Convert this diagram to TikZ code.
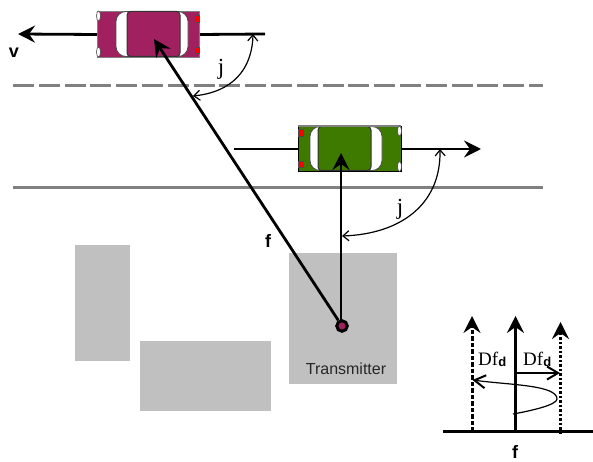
\documentclass[tikz,border=0pt]{standalone}
\usepackage{fontspec}
\setmainfont{Liberation Serif}
\setsansfont{Liberation Sans}
\usetikzlibrary{arrows.meta}
\definecolor{plum}{HTML}{A02060}
\definecolor{leaf}{HTML}{3F7A00}
\definecolor{blockgrey}{HTML}{C0C0C0}
\definecolor{roadgrey}{HTML}{808080}
\tikzset{
  x=1pt,y=-1pt,
  block/.style={fill=blockgrey,draw=none},
  road/.style={draw=roadgrey,line width=3pt},
  bigtip/.style={-{Stealth[length=17pt,width=17pt,inset=6pt]}},
  thick line/.style={line width=2.8pt},
  thin arc/.style={line width=1.2pt,{Straight Barb[length=6pt,width=10pt]}-{Straight Barb[length=6pt,width=10pt]}},
  boldlabel/.style={font=\sffamily\bfseries\fontsize{18}{20}\selectfont,inner sep=0pt},
  anglabel/.style={font=\rmfamily\fontsize{23}{25}\selectfont,inner sep=0pt},
  dflabel/.style={font=\rmfamily\fontsize{19}{21}\selectfont,inner sep=0pt},
}
\begin{document}
\begin{tikzpicture}
\useasboundingbox (0,0) rectangle (593,462);
% blocks
\fill[block] (75,245) rectangle (130,361);
\fill[block] (140,341) rectangle (271,411);
\fill[block] (289,253) rectangle (397,384);
% roads
\draw[road,dash pattern=on 21pt off 4.8pt] (13,85.5) -- (543,85.5);
\draw[road] (13,188) -- (543,188);
% car 1
\node[draw=roadgrey,fill=plum,line width=1pt,inner sep=0pt,minimum width=102pt,minimum height=46pt,anchor=north west] (car1) at (97,11) {};
\fill[white,draw=black!70,line width=0.8pt,rounded corners=10pt] (116,11.5) rectangle (188,56.5);
\fill[plum,draw=black!80,line width=1pt,rounded corners=3.5pt] (127,11.5) rectangle (180,56.5);
\fill[white,draw=black!70,line width=0.6pt] (98.5,16) ellipse (2pt and 5pt);
\fill[white,draw=black!70,line width=0.6pt] (98.5,52) ellipse (2pt and 5pt);
\fill[red,draw=black!70,line width=0.6pt] (195.5,15) rectangle (199.5,22);
\fill[red,draw=black!70,line width=0.6pt] (195.5,47) rectangle (199.5,53);
% car 2
\node[draw=black,fill=leaf,line width=1pt,inner sep=0pt,minimum width=103pt,minimum height=45pt,anchor=north west] (car2) at (298,126) {};
\fill[white,draw=black!70,line width=0.8pt,rounded corners=10pt] (310,126.5) rectangle (382,170.5);
\fill[leaf,draw=black!80,line width=1pt,rounded corners=3.5pt] (318,126.5) rectangle (371,170.5);
\draw[roadgrey,line width=1.6pt] (298,126) -- (401,126);
\fill[white,draw=black!70,line width=0.6pt] (399.5,131) ellipse (2pt and 5pt);
\fill[white,draw=black!70,line width=0.6pt] (399.5,166.5) ellipse (2pt and 5pt);
\fill[red,draw=black!70,line width=0.6pt] (298.5,129.5) rectangle (303,136.5);
\fill[red,draw=black!70,line width=0.6pt] (298.5,161) rectangle (303,167.5);
% transmitter
\coordinate (tip1) at (154,39);
\coordinate (tip2) at (341,153);
\coordinate (txv) at (341,322);
\coordinate (vtip) at (18,34);
\coordinate (r1) at (265,34);
\coordinate (l2) at (234,149);
\coordinate (vtip2) at (481,149);
\node[circle,draw=black,fill=plum,line width=3pt,minimum size=10.5pt,inner sep=0pt] (tx) at (342,326) {};
\draw[thick line,bigtip] (tx) -- (tip1);
\draw[line width=2.2pt,bigtip] (txv) -- (tip2);
\draw[thick line,bigtip] (car1.west) -- (vtip);
\draw[thick line] (car1.east) -- (r1);
\draw[thick line] (l2) -- (car2.west);
\draw[thick line,bigtip] (car2.east) -- (vtip2);
% angle arcs
\coordinate (a1) at (253,34);
\coordinate (a2) at (193,96);
\coordinate (b1) at (440,149);
\coordinate (b2) at (342,236);
\draw[thin arc] (a1) .. controls (252,70) and (232,92) .. (a2);
\draw[thin arc] (b1) .. controls (441,205) and (400,234) .. (b2);
% labels
\node[boldlabel] (vlab) at (14,53) {v};
\node[anglabel] (j1) at (221,69) {j};
\node[anglabel] (j2) at (400,209) {j};
\node[boldlabel] (flab) at (268,241) {f};
\node[font=\sffamily\fontsize{16}{18}\selectfont,inner sep=0pt,text=black!85] (txlab) at (346,369) {Transmitter};
% inset
\coordinate (ax0) at (443,431.5);
\coordinate (ax1) at (593,431.5);
\coordinate (cb) at (515.5,431.5);
\coordinate (ct) at (515.5,316);
\coordinate (lb) at (472,431.5);
\coordinate (lt) at (472,316);
\coordinate (rb) at (560.5,434);
\coordinate (rt) at (560.5,322);
\draw[line width=3pt] (ax0) -- (ax1);
\draw[line width=3pt,bigtip] (cb) -- (ct);
\draw[line width=3pt,dash pattern=on 4.5pt off 2pt,bigtip] (lb) -- (lt);
\draw[line width=3pt,dash pattern=on 2.5pt off 2pt,bigtip] (rb) -- (rt);
\coordinate (m1) at (515.5,373);
\coordinate (m2) at (560,373);
\coordinate (m3) at (472.5,380);
\coordinate (m4) at (513,414);
\draw[line width=1.2pt,-{Straight Barb[length=11pt,width=13pt,line width=2pt]}] (m1) -- (m2);
\draw[line width=1.2pt,{Straight Barb[length=11pt,width=13pt,line width=2pt]}-] (m3) .. controls (510,385) and (557,385) .. (557,399) .. controls (557,405) and (530,411) .. (m4);
\node[dflabel,anchor=base west] (df1) at (478,365) {Df\raisebox{-1.5pt}{\sffamily\bfseries\fontsize{13}{14}\selectfont d}};
\node[dflabel,anchor=base west] (df2) at (523,365) {Df\raisebox{-1.5pt}{\sffamily\bfseries\fontsize{13}{14}\selectfont d}};
\node[boldlabel] (flab2) at (515,452) {f};
\end{tikzpicture}
\end{document}
